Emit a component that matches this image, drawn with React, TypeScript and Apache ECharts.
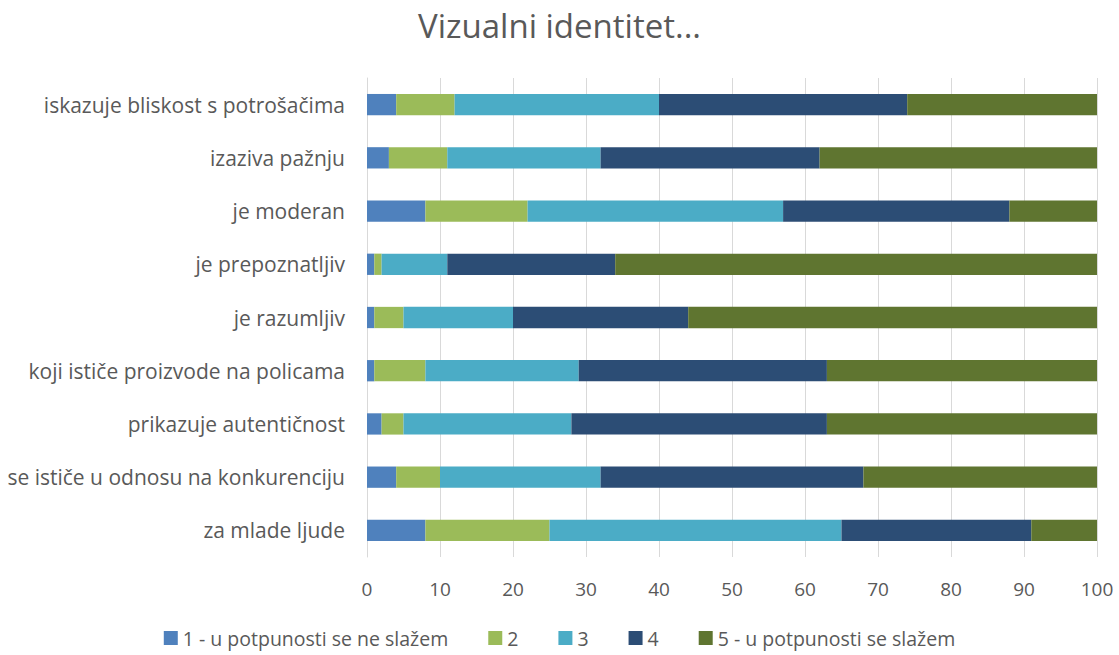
import React, { useEffect, useRef } from "react";
import * as echarts from "echarts";

const categories = [
  "iskazuje bliskost s potrošačima",
  "izaziva pažnju",
  "je moderan",
  "je prepoznatljiv",
  "je razumljiv",
  "koji ističe proizvode na policama",
  "prikazuje autentičnost",
  "se ističe u odnosu na konkurenciju",
  "za mlade ljude",
];

const seriesNames = [
  "1 - u potpunosti se ne slažem",
  "2",
  "3",
  "4",
  "5 - u potpunosti se slažem",
];

const s1 = [4, 3, 8, 1, 1, 1, 2, 4, 8];
const s2 = [8, 8, 14, 1, 4, 7, 3, 6, 17];
const s3 = [28, 21, 35, 9, 15, 21, 23, 22, 40];
const s4 = [34, 30, 31, 23, 24, 34, 35, 36, 26];
const s5 = [26, 38, 12, 66, 56, 37, 37, 32, 9];

const colors = ["#4F81BD", "#9BBB59", "#4BACC6", "#2C4D75", "#5F7530"];

export default function App() {
  const ref = useRef<HTMLDivElement>(null);
  useEffect(() => {
    document.body.style.margin = "0";
    document.body.style.overflow = "hidden";
    if (!ref.current) return;
    const chart = echarts.init(ref.current, undefined, { renderer: "svg" });
    const font = "Open Sans";
    const data = [s1, s2, s3, s4, s5];
    chart.setOption({
      animation: false,
      textStyle: { fontFamily: font },
      title: {
        text: "Vizualni identitet...",
        left: "center",
        top: 4,
        textStyle: { fontFamily: font, fontSize: 33, fontWeight: "normal", color: "#595959" },
      },
      legend: {
        bottom: 2,
        left: "center",
        itemWidth: 14,
        itemHeight: 14,
        itemGap: 40,
        itemStyle: { borderWidth: 0 },
        icon: "rect",
        textStyle: { fontFamily: font, fontSize: 19.5, color: "#595959" },
        data: seriesNames,
      },
      grid: { left: 367, right: 22, top: 78, bottom: 98, containLabel: false },
      xAxis: {
        type: "value",
        min: 0,
        max: 100,
        interval: 10,
        axisLine: { show: false },
        axisTick: { show: false },
        splitLine: { lineStyle: { color: "#D9D9D9", width: 1 } },
        axisLabel: { fontFamily: font, fontSize: 19, color: "#595959", margin: 22 },
      },
      yAxis: {
        type: "category",
        inverse: true,
        data: categories,
        axisLine: { show: true, lineStyle: { color: "#D9D9D9" } },
        axisTick: { show: false },
        axisLabel: { fontFamily: font, fontSize: 21, color: "#595959", margin: 22 },
      },
      series: seriesNames.map((name, i) => ({
        name,
        type: "bar",
        stack: "total",
        barWidth: "40%",
        data: data[i],
        itemStyle: { color: colors[i] },
      })),
    });
    return () => chart.dispose();
  }, []);
  return <div ref={ref} style={{ width: 1119, height: 655 }} />;
}
